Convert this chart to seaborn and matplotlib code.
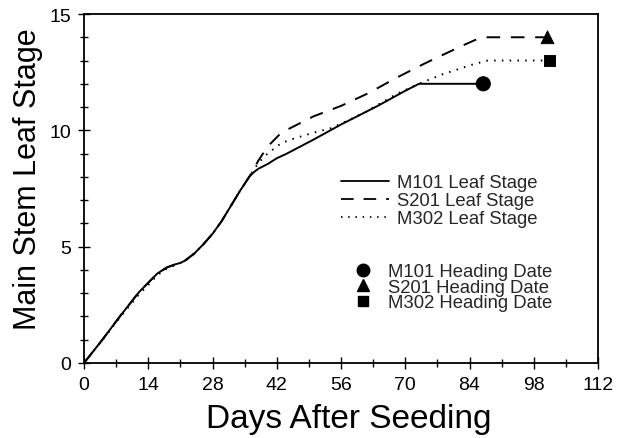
import numpy as np
import pandas as pd
import matplotlib
matplotlib.use("Agg")
import matplotlib.pyplot as plt
from matplotlib.lines import Line2D
from matplotlib.ticker import MultipleLocator
import seaborn as sns

# ---- data ----
m101_day = [0, 4, 8, 12, 14, 16, 18, 20, 21, 22, 24, 26, 28, 30, 32, 34, 36, 37, 38, 40, 42, 44, 50, 56, 64, 70, 73, 86]
m101_leaf = [0, 1.0, 2.05, 3.05, 3.45, 3.85, 4.1, 4.25, 4.3, 4.4, 4.7, 5.1, 5.55, 6.1, 6.75, 7.4, 8.0, 8.2, 8.35, 8.55, 8.8, 8.98, 9.6, 10.25, 11.05, 11.7, 12.0, 12.0]

s201_day = [0, 4, 8, 12, 14, 16, 18, 20, 21, 22, 24, 26, 28, 30, 32, 34, 36, 37, 38, 40, 43, 46, 50, 56, 62, 68, 74, 82, 86, 88, 101]
s201_leaf = [0, 1.0, 2.05, 3.05, 3.45, 3.85, 4.1, 4.25, 4.3, 4.4, 4.7, 5.1, 5.55, 6.1, 6.75, 7.4, 8.0, 8.35, 8.7, 9.3, 9.9, 10.2, 10.6, 11.05, 11.6, 12.25, 12.85, 13.6, 13.95, 14.0, 14.0]

m302_day = [0, 4, 8, 12, 14, 16, 18, 20, 21, 22, 24, 26, 28, 30, 32, 34, 36, 37, 38, 40, 43, 45, 50, 54, 61, 68, 73, 78, 85, 88, 101]
m302_leaf = [0, 0.98, 2.0, 2.95, 3.35, 3.78, 4.05, 4.22, 4.3, 4.4, 4.7, 5.1, 5.55, 6.1, 6.75, 7.4, 8.0, 8.3, 8.6, 9.0, 9.45, 9.6, 9.9, 10.1, 10.75, 11.55, 12.0, 12.4, 12.85, 13.0, 13.0]

varieties = ["M101", "S201", "M302"]
heading_day = [87, 101, 101.5]
heading_leaf = [12, 14, 13]

x_ticks = [0, 14, 28, 42, 56, 70, 84, 98, 112]
y_ticks = [0, 5, 10, 15]

# ---- build tables ----
lines = pd.concat([
    pd.DataFrame({"day": m101_day, "leaf": m101_leaf, "variety": "M101"}),
    pd.DataFrame({"day": s201_day, "leaf": s201_leaf, "variety": "S201"}),
    pd.DataFrame({"day": m302_day, "leaf": m302_leaf, "variety": "M302"}),
], ignore_index=True)
heads = pd.DataFrame({"day": heading_day, "leaf": heading_leaf, "variety": varieties})

sns.set_style("ticks")
plt.rcParams["font.family"] = ["Liberation Sans", "DejaVu Sans"]

fig = plt.figure(figsize=(6.18, 4.39), dpi=100)
ax = fig.add_axes([84 / 618, 1 - 364 / 439, 514 / 618, 349 / 439])

dash_map = {"M101": "", "S201": (7, 5.5), "M302": (0.8, 3.2)}
sns.lineplot(data=lines, x="day", y="leaf", style="variety", dashes=dash_map,
             color="black", linewidth=1.4, sort=False, estimator=None,
             legend=False, ax=ax)
marker_map = {"M101": "o", "S201": "^", "M302": "s"}
size_map = {"M101": 105, "S201": 85, "M302": 65}
sns.scatterplot(data=heads, x="day", y="leaf", style="variety", markers=marker_map,
                size="variety", sizes=size_map, color="black", edgecolor="black",
                legend=False, ax=ax, zorder=5)

ax.set_xlim(0, 112)
ax.set_ylim(0, 15)
ax.set_xticks(x_ticks)
ax.set_yticks(y_ticks)
ax.xaxis.set_minor_locator(MultipleLocator(7))
ax.yaxis.set_minor_locator(MultipleLocator(1))
ax.tick_params(which="major", direction="inout", length=9, width=1.0, color="black",
               labelsize=14, pad=5, labelcolor="black")
ax.tick_params(which="minor", direction="inout", length=6, width=1.0, color="black")
for s in ax.spines.values():
    s.set_visible(True)
    s.set_linewidth(1.3)
    s.set_color("black")

ax.set_xlabel("Days After Seeding", fontsize=24, color="black")
ax.xaxis.set_label_coords(0.515, -0.115)
ax.set_ylabel("Main Stem Leaf Stage", fontsize=22, color="black")
ax.yaxis.set_label_coords(-0.08, 0.53)

# legends
line_handles = [
    Line2D([], [], color="black", lw=1.3, linestyle="-"),
    Line2D([], [], color="black", lw=1.3, linestyle=(0, (7, 5.5))),
    Line2D([], [], color="black", lw=1.3, linestyle=(0, (0.8, 3.2))),
]
leg1 = ax.legend(line_handles, [f"{v} Leaf Stage" for v in varieties],
                 loc="upper left", bbox_to_anchor=(0.50, 0.541), frameon=False,
                 fontsize=13.3, handlelength=2.6, handletextpad=0.45,
                 labelspacing=0.05, borderpad=0, borderaxespad=0)
ax.add_artist(leg1)

mk_handles = [
    Line2D([], [], color="black", marker="o", markersize=9, linestyle="none"),
    Line2D([], [], color="black", marker="^", markersize=8, linestyle="none"),
    Line2D([], [], color="black", marker="s", markersize=7, linestyle="none"),
]
ax.legend(mk_handles, [f"{v} Heading Date" for v in varieties],
          loc="upper left", bbox_to_anchor=(0.524, 0.286), frameon=False,
          fontsize=13.3, handlelength=1.0, handletextpad=0.9,
          labelspacing=-0.08, borderpad=0, borderaxespad=0)

fig.savefig("out.png", dpi=100)
